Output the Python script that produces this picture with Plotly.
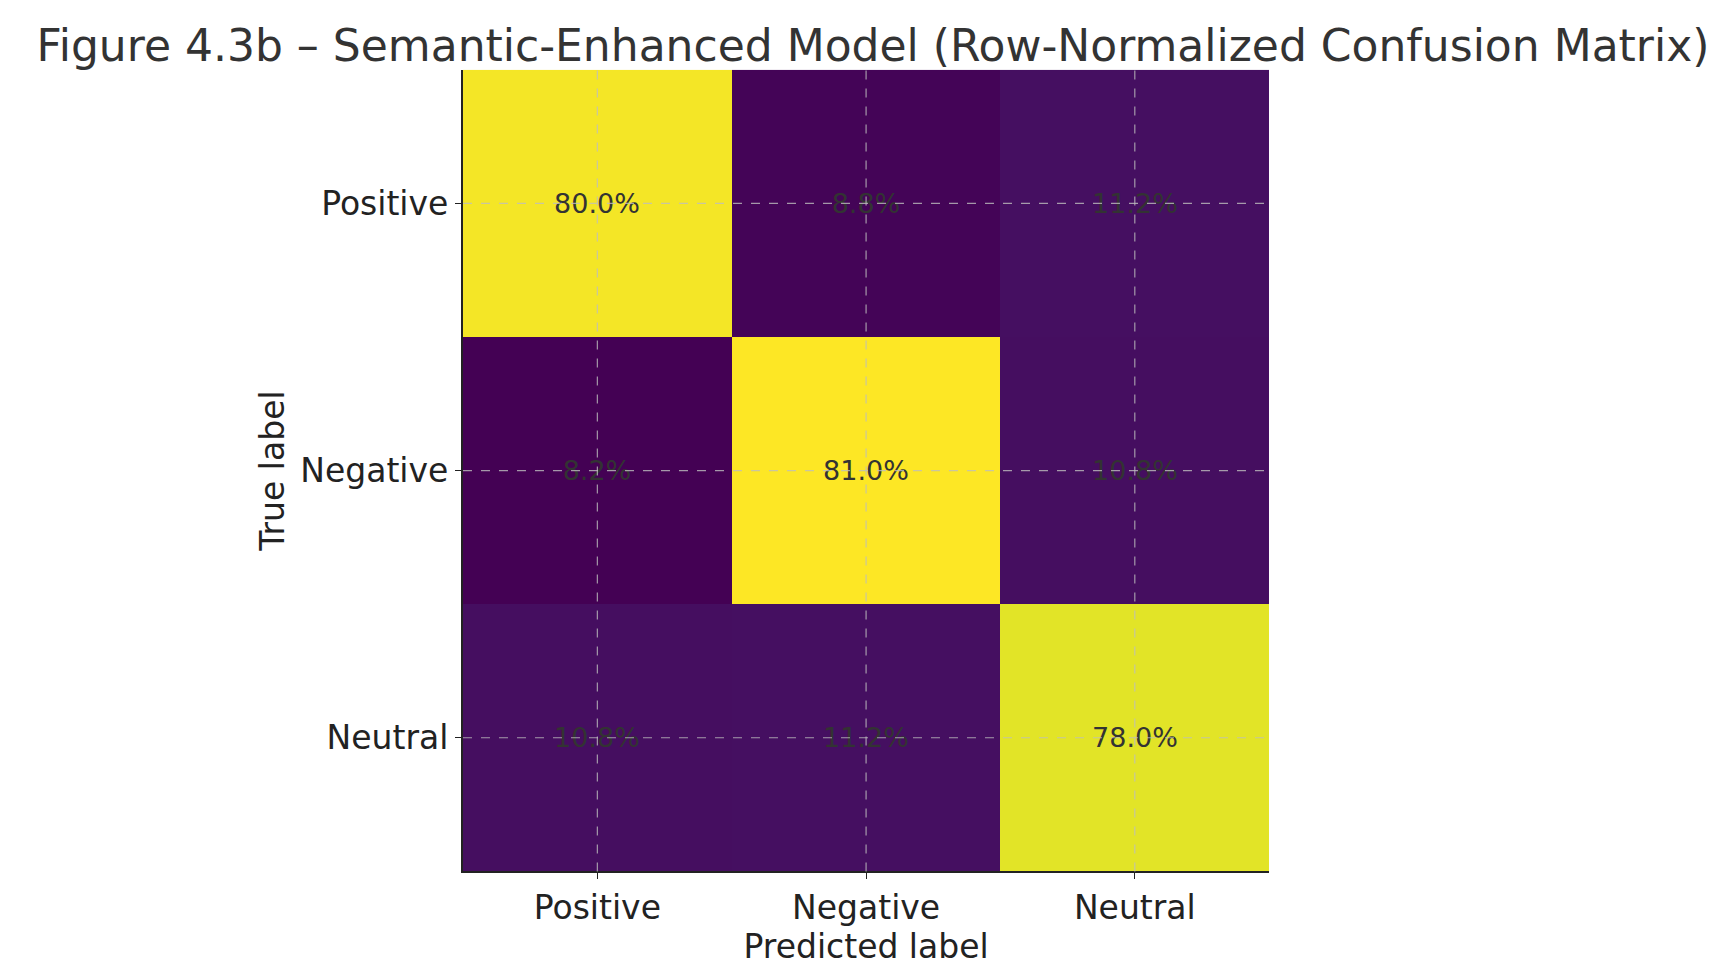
import plotly.graph_objects as go

labels = ["Positive", "Negative", "Neutral"]
values = [
    [80.0, 8.8, 11.2],
    [8.2, 81.0, 10.8],
    [10.8, 11.2, 78.0],
]
text = [[f"{v:.1f}%" for v in row] for row in values]

XD = [0.263, 0.729]
YD = [0.119, 0.937]

fig = go.Figure(go.Heatmap(
    z=values, x=labels, y=labels, text=text,
    texttemplate="%{text}", textfont=dict(size=27, color="#333333"),
    colorscale="Viridis", showscale=False,
))

for lab in labels:
    fig.add_shape(type="line", xref="x", yref="paper", x0=lab, x1=lab, y0=YD[0], y1=YD[1],
                  line=dict(color="rgba(190,190,190,0.8)", width=1.2, dash="dash"), layer="above")
    fig.add_shape(type="line", xref="paper", yref="y", x0=XD[0], x1=XD[1], y0=lab, y1=lab,
                  line=dict(color="rgba(190,190,190,0.8)", width=1.2, dash="dash"), layer="above")

fig.update_layout(
    width=1730, height=980, plot_bgcolor="white", paper_bgcolor="white",
    font=dict(family="DejaVu Sans", color="#222222"),
    title=dict(text="Figure 4.3b – Semantic-Enhanced Model (Row-Normalized Confusion Matrix)",
               x=0.5, xanchor="center", y=0.962, yanchor="middle",
               font=dict(size=44, color="#333333")),
    margin=dict(l=0, r=0, t=0, b=0),
    xaxis=dict(domain=XD, title=dict(text="Predicted label", font=dict(size=33), standoff=6),
               tickfont=dict(size=33), showline=True, linecolor="#222", linewidth=2,
               ticks="outside", ticklen=6, tickcolor="#222", showgrid=False),
    yaxis=dict(domain=YD, autorange="reversed",
               title=dict(text="True label", font=dict(size=33), standoff=6),
               tickfont=dict(size=33), showline=True, linecolor="#222", linewidth=2,
               ticks="outside", ticklen=6, tickcolor="#222", showgrid=False),
)

fig.write_html("out.html")
